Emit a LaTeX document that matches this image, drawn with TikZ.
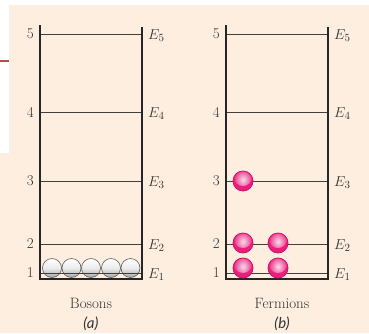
\documentclass[tikz,border=0pt]{standalone}
\usepackage{fontspec}
\newfontfamily\labfont{Lato}
\begin{document}
\begin{tikzpicture}[x=1pt,y=-1pt,
  txt/.style={inner sep=0pt,text=black!80,font=\fontsize{15}{17}\selectfont},
  wall/.style={line width=1.4pt,draw=black!85},
  lev/.style={line width=0.8pt,draw=black!75},
  boson/.style={circle,minimum size=19pt,inner sep=0pt,top color=white,bottom color=gray!70,middle color=gray!15,draw=black!65,line width=0.6pt},
  fermion/.style={circle,minimum size=20pt,inner sep=0pt,fill=fpink,draw=fedge,line width=0.8pt,
    path picture={\shade[inner color=white!85!fpink,outer color=fpink] ([yshift=4pt]path picture bounding box.center) circle (9pt);}}]
\definecolor{bg}{HTML}{FDEEE0}
\definecolor{fpink}{HTML}{E8207C}
\definecolor{fedge}{HTML}{D0106A}
\definecolor{redl}{HTML}{B0504F}
\useasboundingbox (0,0) rectangle (369,333);
\fill[bg] (0,5) rectangle (369,333);
\fill[white] (0,5) rectangle (9,153);
\fill[redl] (0,60) rectangle (9,62);
% panel a
\coordinate (a1) at (40,25); \coordinate (a2) at (40,279);
\coordinate (a3) at (142,279); \coordinate (a4) at (142,27);
\foreach \n/\y in {5/34,4/112,3/181,2/244,1/273}{
  \draw[lev] (40,\y) coordinate (al\n) -- (142,\y) coordinate (ar\n);
  \node[txt,anchor=east] (an\n) at ([xshift=-6pt]al\n) {\n};
  \node[txt,anchor=west] (ae\n) at ([xshift=6pt,yshift=-1.5pt]ar\n) {$E_\n$};
}
\foreach \i/\x in {1/52,2/71.5,3/91,4/111,5/130.5}{
  \node[boson] (b\i) at (\x,268) {};
}
\draw[lev] (al1) -- (ar1);
\draw[wall] (a1) -- (a2) -- (a3) -- (a4);
\node[txt] (bos) at (91,303) {Bosons};
\node[txt] (pa) at (91,324) {\labfont\itshape (a)};
% panel b
\coordinate (b1c) at (226,25); \coordinate (b2c) at (226,279);
\coordinate (b3c) at (328,279); \coordinate (b4c) at (328,27);
\foreach \n/\y in {5/34,4/112,3/181,2/244,1/273}{
  \draw[lev] (226,\y) coordinate (bl\n) -- (328,\y) coordinate (br\n);
  \node[txt,anchor=east] (bn\n) at ([xshift=-6pt]bl\n) {\n};
  \node[txt,anchor=west] (be\n) at ([xshift=6pt,yshift=-1.5pt]br\n) {$E_\n$};
}
\draw[wall] (b1c) -- (b2c) -- (b3c) -- (b4c);
\node[fermion] (f3) at (243,181) {};
\node[fermion] (f2a) at (243,243) {};
\node[fermion] (f2b) at (278,243) {};
\node[fermion] (f1a) at (243,268) {};
\node[fermion] (f1b) at (278,268) {};
\node[txt] (fer) at (282,303) {Fermions};
\node[txt] (pb) at (282,324) {\labfont\itshape (b)};
\end{tikzpicture}
\end{document}
